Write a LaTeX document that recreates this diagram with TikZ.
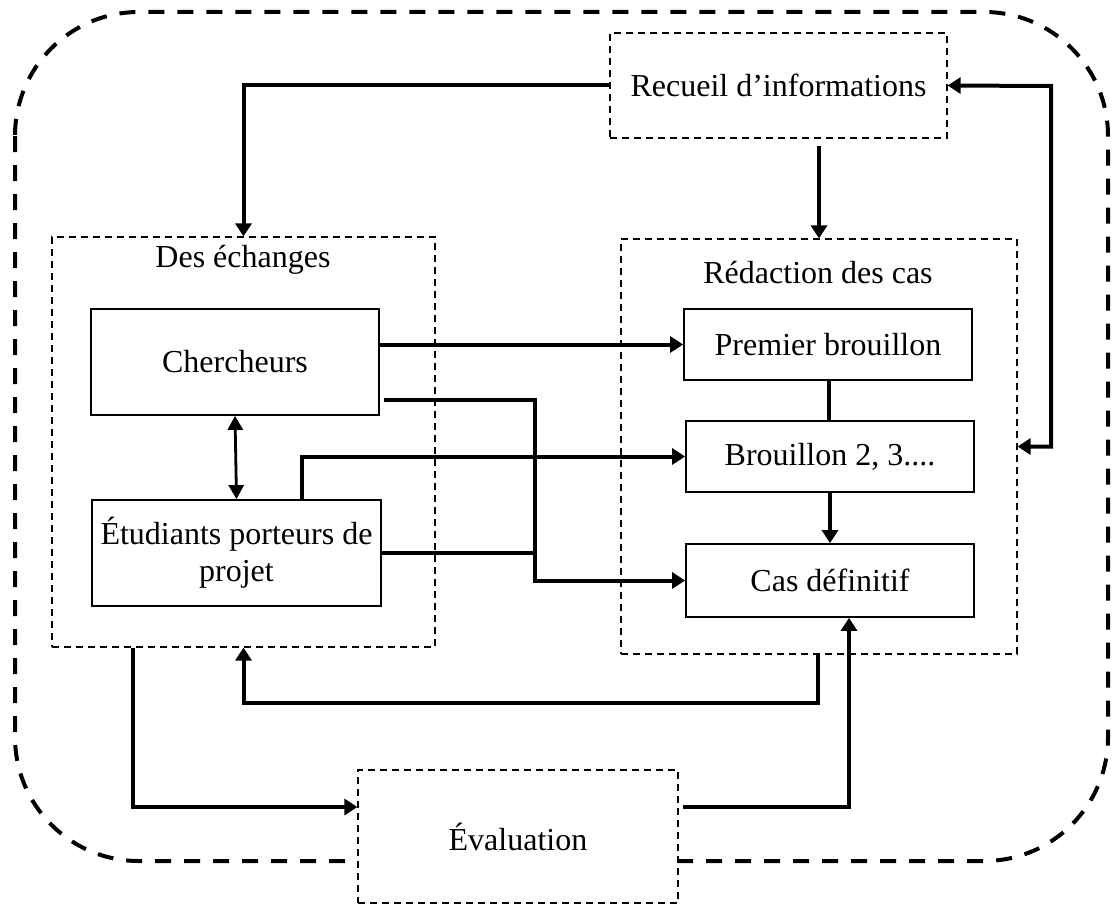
\documentclass[tikz,border=0pt]{standalone}
\usepackage{fontspec}
\setmainfont{Liberation Serif}
\usetikzlibrary{arrows.meta,positioning}
\tikzset{
    every picture/.style={line join=miter},
    outerframe/.style={draw,line width=2pt,dash pattern=on 8pt off 6.5pt,
      rounded corners=62pt},
    groupbox/.style={draw,line width=0.6pt,dash pattern=on 3.5pt off 2.5pt,
      inner sep=0pt},
    stagebox/.style={draw,line width=0.9pt,fill=white,inner sep=2pt,align=center},
    flowline/.style={line width=2pt},
    flowarrow/.style={flowline,-{Triangle[length=6.5pt,width=8pt]}},
    linkarrow/.style={line width=1.4pt,
      {Triangle[length=7pt,width=7.5pt]}-{Triangle[length=7pt,width=7.5pt]}}
}

\begin{document}
\begin{tikzpicture}[x=0.5pt,y=-0.5pt,font=\fontsize{16}{18.5}\selectfont]
  \useasboundingbox (0,0) rectangle (1112,904);
  % cadre general
  \draw[outerframe] (15,12) rectangle (1108,861);

  % blocs
  \node[groupbox,minimum width=168.5pt,minimum height=52.5pt] (rec) at (778.5,85.5) {Recueil d’informations};
  \node[groupbox,minimum width=191.5pt,minimum height=205pt] (ech) at (243.5,442) {};
  \node[anchor=base] (echT) at (243,267) {Des échanges};
  \node[groupbox,minimum width=198pt,minimum height=207.5pt] (red) at (819,446.5) {};
  \node[anchor=base] (redT) at (818,283) {Rédaction des cas};
  \node[stagebox,minimum width=144pt,minimum height=53pt] (cher) at (235,362) {Chercheurs};
  \node[stagebox,minimum width=144.5pt,minimum height=53pt] (etu) at (236.5,553) {Étudiants porteurs de\\projet};
  \node[stagebox,minimum width=144pt,minimum height=35.5pt] (pb) at (828,344.5) {Premier brouillon};
  \node[stagebox,minimum width=144pt,minimum height=35.5pt] (b2) at (830,456.5) {Brouillon 2, 3....};
  \node[stagebox,minimum width=144pt,minimum height=36.5pt] (cas) at (830,580.5) {Cas définitif};
  \node[groupbox,fill=white,minimum width=160pt,minimum height=66.5pt] (eval) at (518,836.5) {Évaluation};

  % points de passage
  \coordinate (loop) at (1051,86);
  \coordinate (split) at (535,400);
  \coordinate (rise) at (302,500);
  \coordinate (back) at (818,703);
  \coordinate (drop) at (133,807);
  \coordinate (lift) at (849,807);

  % liaisons
  \draw[flowarrow] (rec.west) -| (ech.north);
  \draw[flowarrow] ([yshift=-3.5pt]rec.south -| red.north) -- (red.north);
  \draw[flowline,{Triangle[length=6.5pt,width=8pt]}-{Triangle[length=6.5pt,width=8pt]}]
    (rec.east) -- (loop) |- (red.east);
  \draw[flowarrow] (cher.east |- pb.west) -- (pb.west);
  \draw[flowarrow] ([xshift=2pt]cher.east |- split) -- (split) |- (cas.west);
  \draw[flowline] (etu.east) -- (etu.east -| split);
  \draw[flowarrow] (etu.north -| rise) |- (b2.west);
  \draw[linkarrow] (cher.south) -- (etu.north);
  \draw[flowline] (pb.south -| 829,0) -- (b2.north -| 829,0);
  \draw[flowarrow] (b2.south) -- (cas.north);
  \draw[flowarrow] (red.south -| back) -- (back) -| (ech.south);
  \draw[flowarrow] (ech.south -| drop) -- (drop) -- (eval.west |- drop);
  \draw[flowarrow] ([xshift=2pt]eval.east |- lift) -- (lift) -- (lift |- cas.south);
\end{tikzpicture}
\end{document}
